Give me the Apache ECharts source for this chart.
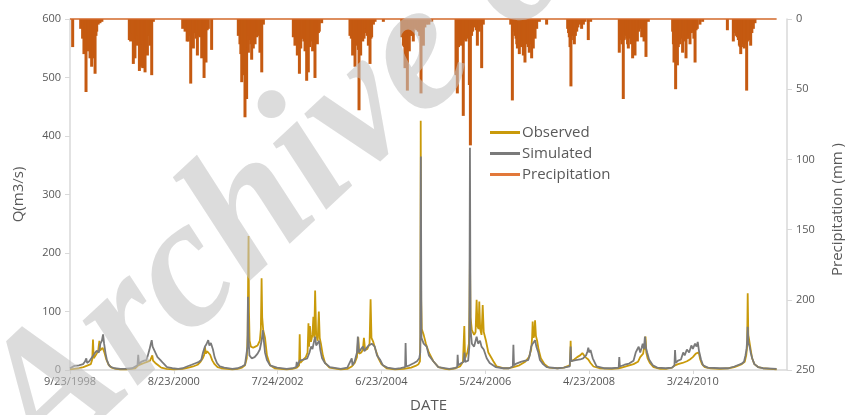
<!DOCTYPE html>
<html>
<head>
<meta charset="utf-8">
<script src="https://cdn.jsdelivr.net/npm/echarts@6/dist/echarts.min.js"></script>
<style>html,body{margin:0;padding:0;background:#fff}#c{width:845px;height:415px}</style>
</head>
<body>
<div id="c"></div>
<script>
// Day offsets are counted from the first date, 9/23/1998.
var startDate = [1998, 9, 23];
var seriesNames = ['Observed', 'Simulated', 'Precipitation'];
var xTickInterval = 700;
var qTicks = [0, 100, 200, 300, 400, 500, 600];
var pTicks = [0, 50, 100, 150, 200, 250];

// Observed discharge Q (m3/s): [day, value]
var observed = [
[0,1],[30,2],[60,3],[90,5],[120,8],[140,10],[150,18],[155,52],[160,20],[170,24],[180,28],[190,33],[198,50],[202,33],[210,36],[220,38],[232,30],[245,18],[260,9],[280,4],[310,2],[340,1],
[380,1],[440,3],[460,8],[480,10],[500,12],[520,14],[540,16],[550,14],[555,25],[560,16],[575,12],[595,8],[615,4],[650,2],[700,1],
[760,2],[800,4],[830,6],[860,9],[880,14],[895,20],[905,26],[910,39],[916,28],[925,32],[935,34],[945,26],[960,16],[975,10],[995,5],[1020,3],[1095,1],
[1130,2],[1160,4],[1180,8],[1192,20],[1198,60],[1201,150],[1204,229],[1207,100],[1211,50],[1220,40],[1235,38],[1250,40],[1265,42],[1280,50],[1287,70],[1292,157],[1296,90],[1303,68],[1315,55],[1328,25],[1349,8],[1380,3],[1461,1],
[1500,2],[1530,4],[1545,8],[1549,61],[1553,12],[1570,17],[1590,22],[1602,30],[1608,80],[1612,40],[1618,75],[1625,48],[1635,60],[1641,91],[1647,55],[1653,136],[1660,60],[1670,50],[1678,100],[1684,55],[1692,45],[1705,25],[1720,12],[1750,4],[1800,2],[1826,1],
[1870,2],[1900,6],[1920,12],[1935,22],[1944,56],[1950,28],[1965,30],[1975,35],[1982,55],[1990,34],[2005,36],[2020,45],[2027,121],[2033,55],[2045,48],[2060,35],[2080,20],[2100,10],[2135,3],[2192,1],
[2250,2],[2300,4],[2330,7],[2350,10],[2360,15],[2363,60],[2365,426],[2368,120],[2372,70],[2385,60],[2400,45],[2420,30],[2450,15],[2484,5],[2530,2],[2557,1],
[2600,3],[2630,6],[2650,14],[2659,75],[2664,20],[2680,30],[2690,45],[2694,110],[2697,197],[2701,90],[2710,68],[2725,60],[2735,65],[2742,120],[2748,75],[2755,70],[2760,117],[2766,70],[2775,60],[2783,111],[2790,65],[2805,50],[2821,30],[2855,15],[2877,6],[2922,3],
[2960,3],[2990,5],[3030,8],[3070,14],[3095,22],[3110,35],[3116,55],[3120,83],[3126,55],[3132,60],[3136,85],[3142,58],[3150,50],[3160,35],[3175,20],[3200,10],[3230,4],[3287,3],
[3330,4],[3370,8],[3373,20],[3376,50],[3380,15],[3400,18],[3420,22],[3440,25],[3455,29],[3465,28],[3475,22],[3495,18],[3510,12],[3530,6],[3570,3],[3653,2],
[3700,3],[3720,4],[3760,7],[3800,10],[3830,14],[3845,22],[3855,25],[3865,28],[3872,40],[3878,35],[3881,57],[3886,30],[3895,20],[3910,12],[3935,5],[3980,2],[4018,2],
[4060,4],[4080,8],[4100,10],[4130,12],[4160,15],[4180,18],[4200,22],[4220,28],[4232,31],[4240,30],[4250,18],[4262,10],[4280,5],[4320,3],[4383,2],
[4440,3],[4480,5],[4510,8],[4530,10],[4550,14],[4560,25],[4566,40],[4570,131],[4574,60],[4580,51],[4590,35],[4600,20],[4615,10],[4640,5],[4673,3],[4720,2],[4765,1]
];

// Simulated discharge Q (m3/s): [day, value]
var simulated = [
[0,3],[13,5],[30,7],[60,8],[88,10],[100,14],[110,20],[115,12],[130,15],[150,22],[165,28],[180,33],[195,30],[205,45],[215,50],[223,61],[230,45],[240,28],[249,17],[260,10],[270,6],[300,3],[340,2],
[365,2],[420,3],[455,8],[460,26],[465,10],[480,14],[500,16],[515,17],[525,25],[535,34],[545,45],[551,51],[557,40],[566,42],[575,30],[590,22],[610,17],[627,12],[654,5],[690,3],[730,2],
[760,3],[789,6],[820,9],[850,12],[870,14],[885,17],[897,30],[910,40],[920,44],[932,51],[940,42],[950,46],[958,43],[964,35],[975,22],[991,12],[1011,6],[1040,4],[1095,2],
[1130,3],[1160,6],[1180,9],[1192,11],[1197,40],[1200,125],[1203,60],[1210,25],[1225,20],[1245,22],[1265,28],[1280,35],[1292,50],[1301,68],[1308,48],[1315,30],[1328,17],[1349,8],[1396,4],[1461,2],
[1500,3],[1525,5],[1529,14],[1533,6],[1549,16],[1560,15],[1580,18],[1600,20],[1615,30],[1625,40],[1635,36],[1645,48],[1653,57],[1660,42],[1670,45],[1680,50],[1688,34],[1700,20],[1719,12],[1753,5],[1826,2],
[1870,4],[1900,20],[1905,8],[1920,15],[1935,30],[1941,57],[1948,30],[1960,35],[1975,40],[1985,32],[2000,38],[2015,42],[2027,40],[2035,45],[2045,48],[2055,40],[2070,25],[2090,18],[2110,8],[2140,4],[2192,2],
[2230,3],[2260,5],[2263,46],[2267,6],[2290,8],[2320,12],[2340,15],[2355,20],[2362,30],[2366,365],[2370,55],[2385,45],[2395,48],[2405,40],[2420,25],[2450,15],[2484,5],[2557,2],
[2590,3],[2611,5],[2614,26],[2618,8],[2640,12],[2655,14],[2660,30],[2665,14],[2685,16],[2693,40],[2697,380],[2701,70],[2710,45],[2725,40],[2735,50],[2742,57],[2752,45],[2765,50],[2775,40],[2790,35],[2810,20],[2830,12],[2870,5],[2922,3],
[2960,3],[2986,6],[2990,43],[2994,8],[3010,11],[3040,14],[3070,16],[3090,17],[3100,25],[3110,40],[3120,45],[3128,42],[3136,51],[3145,40],[3158,30],[3169,17],[3190,10],[3214,5],[3287,3],
[3330,4],[3370,6],[3374,30],[3376,40],[3380,15],[3410,17],[3440,18],[3460,20],[3480,25],[3490,32],[3495,38],[3502,30],[3510,34],[3525,20],[3551,6],[3600,3],[3653,3],
[3700,4],[3704,22],[3708,6],[3740,9],[3770,11],[3800,16],[3815,30],[3825,35],[3835,40],[3845,30],[3855,38],[3862,45],[3870,36],[3877,57],[3884,38],[3892,30],[3905,18],[3930,8],[3960,4],[4018,3],
[4060,4],[4076,8],[4080,34],[4085,12],[4100,16],[4120,18],[4135,30],[4145,25],[4160,35],[4175,30],[4190,42],[4200,36],[4215,45],[4225,40],[4233,48],[4242,32],[4255,18],[4269,8],[4300,4],[4383,3],
[4440,3],[4480,6],[4510,9],[4530,11],[4545,14],[4555,25],[4562,35],[4566,50],[4570,74],[4575,46],[4583,40],[4590,30],[4600,20],[4615,10],[4640,5],[4673,3],[4765,2]
];

// Precipitation (mm): [day, value] for rainy days
var precipitation = [
[18,20],[72,7],[85,14],[94,25],[100,19],[108,52],[115,21],[122,23],[128,19],[135,28],[140,22],[146,34],[152,23],[157,28],[163,19],[169,39],[175,12],[180,9],[190,4],[202,3],[215,2],
[400,15],[409,16],[418,10],[427,32],[438,28],[446,14],[454,19],[461,12],[468,37],[477,34],[484,18],[490,35],[498,15],[506,38],[514,20],[522,26],[530,12],[539,19],[545,10],[551,40],[562,2],
[760,7],[776,9],[790,16],[798,16],[806,12],[814,46],[822,14],[832,21],[842,10],[850,14],[859,26],[868,12],[877,13],[888,28],[896,18],[904,42],[910,20],[917,31],[925,8],[933,7],[955,22],
[1135,12],[1146,18],[1152,25],[1158,45],[1163,30],[1169,40],[1175,35],[1180,70],[1186,40],[1191,57],[1197,20],[1203,24],[1208,12],[1214,15],[1220,18],[1225,29],[1230,16],[1236,21],[1242,12],[1248,18],[1253,10],[1259,13],[1265,8],[1270,9],[1276,12],[1281,24],[1287,14],[1293,38],[1304,4],
[1506,13],[1512,10],[1517,19],[1525,14],[1533,26],[1540,18],[1547,39],[1552,20],[1556,21],[1562,14],[1569,14],[1577,16],[1585,23],[1590,18],[1596,44],[1601,26],[1607,38],[1615,20],[1623,16],[1630,15],[1636,23],[1644,18],[1652,42],[1660,15],[1668,18],[1675,10],[1681,9],[1697,3],
[1888,12],[1897,14],[1906,26],[1914,18],[1922,34],[1930,16],[1938,19],[1944,22],[1949,65],[1955,20],[1960,26],[1967,14],[1974,16],[1983,14],[1990,10],[1996,7],[2004,12],[2012,19],[2018,15],[2023,32],[2029,14],[2034,13],[2046,4],[2057,2],[2113,2],
[2237,13],[2243,12],[2248,19],[2254,20],[2259,35],[2267,22],[2275,51],[2281,20],[2288,23],[2296,12],[2304,12],[2310,10],[2315,16],[2327,7],[2338,8],[2349,9],[2358,12],[2367,53],[2375,15],[2383,19],[2393,6],[2405,4],[2420,4],[2439,2],
[2603,40],[2612,53],[2620,20],[2630,18],[2637,19],[2645,16],[2652,69],[2658,15],[2664,14],[2670,16],[2675,14],[2684,12],[2693,47],[2700,90],[2708,12],[2715,9],[2723,6],[2731,5],[2740,8],[2747,19],[2754,8],[2760,9],[2768,5],[2776,35],[2787,4],
[2972,4],[2983,58],[2994,9],[3000,12],[3008,14],[3013,18],[3017,21],[3024,16],[3030,25],[3038,20],[3046,19],[3052,15],[3057,26],[3062,20],[3068,31],[3076,18],[3084,16],[3090,20],[3097,24],[3105,18],[3113,28],[3118,16],[3124,21],[3130,10],[3136,14],[3147,7],[3165,2],[3214,4],
[3356,7],[3362,10],[3367,13],[3372,20],[3378,48],[3384,12],[3390,12],[3396,15],[3401,18],[3408,12],[3417,9],[3425,6],[3435,4],[3450,7],[3462,4],[3473,2],[3495,15],[3511,2],
[3704,24],[3709,15],[3715,14],[3722,18],[3731,57],[3737,15],[3743,9],[3748,12],[3754,14],[3760,18],[3765,21],[3771,14],[3776,13],[3785,18],[3794,28],[3802,20],[3810,26],[3818,15],[3826,16],[3835,9],[3844,7],[3855,13],[3862,10],[3871,16],[3878,12],[3884,27],[3900,2],
[4064,9],[4069,18],[4073,31],[4079,30],[4084,50],[4090,28],[4096,33],[4102,20],[4109,16],[4113,18],[4118,12],[4125,14],[4131,24],[4137,16],[4143,9],[4148,12],[4154,28],[4162,14],[4170,14],[4175,12],[4181,18],[4190,10],[4199,9],[4207,14],[4215,31],[4222,8],[4230,7],[4248,4],[4266,2],
[4433,8],[4473,16],[4478,10],[4484,7],[4492,12],[4500,13],[4507,15],[4514,19],[4519,20],[4523,25],[4530,18],[4536,16],[4542,20],[4547,21],[4555,18],[4563,51],[4568,16],[4574,14],[4582,15],[4590,19],[4598,10],[4608,7],[4619,3]
];
var lastDay = 4765;

var FONT = '"Open Sans", "Liberation Sans", sans-serif';
var GREY = '#595959';
var AXIS = '#d9d9d9';

function dayLabel(d) {
  var t = Date.UTC(startDate[0], startDate[1] - 1, startDate[2]) + d * 86400000;
  var dt = new Date(t);
  return (dt.getUTCMonth() + 1) + '/' + dt.getUTCDate() + '/' + dt.getUTCFullYear();
}

var chart = echarts.init(document.getElementById('c'), null, {renderer: 'canvas'});
chart.setOption({
  animation: false,
  backgroundColor: '#fff',
  textStyle: {fontFamily: FONT},
  grid: {left: 70, right: 58, top: 19, bottom: 45, containLabel: false, outerBoundsMode: 'none'},
  legend: {
    orient: 'vertical', left: 490, top: 125, itemGap: 6, padding: 0,
    itemWidth: 30, itemHeight: 3, icon: 'rect',
    textStyle: {color: GREY, fontSize: 15, fontFamily: FONT, padding: [0, 0, 0, -3]},
    data: [
      {name: seriesNames[0], itemStyle: {color: '#C99A0A'}},
      {name: seriesNames[1], itemStyle: {color: '#7A7A7A'}},
      {name: seriesNames[2], itemStyle: {color: '#E2783A'}}
    ]
  },
  xAxis: {
    type: 'value', min: 0, max: 4835, interval: xTickInterval,
    name: 'DATE', nameLocation: 'middle', nameGap: 28,
    nameTextStyle: {color: GREY, fontSize: 15, fontFamily: FONT},
    axisLine: {show: true, lineStyle: {color: AXIS, width: 1.5}},
    axisTick: {show: true, length: 4, lineStyle: {color: AXIS}},
    axisLabel: {color: GREY, fontSize: 11, fontFamily: FONT, margin: 6, showMaxLabel: false, formatter: dayLabel},
    splitLine: {show: false}
  },
  yAxis: [
    {
      type: 'value', position: 'left', min: qTicks[0], max: qTicks[qTicks.length - 1], interval: 100,
      name: 'Q(m3/s)', nameLocation: 'middle', nameGap: 44, nameRotate: 90,
      nameTextStyle: {color: GREY, fontSize: 15, fontFamily: FONT},
      axisLine: {show: true, lineStyle: {color: AXIS, width: 1.5}},
      axisTick: {show: true, length: 5, lineStyle: {color: AXIS}},
      axisLabel: {color: GREY, fontSize: 11, fontFamily: FONT, margin: 9},
      splitLine: {show: false}
    },
    {
      type: 'value', position: 'right', inverse: true, min: pTicks[0], max: pTicks[pTicks.length - 1], interval: 50,
      name: 'Precipitation (mm )', nameLocation: 'middle', nameGap: 43, nameRotate: 90,
      nameTextStyle: {color: GREY, fontSize: 15, fontFamily: FONT, padding: [0, 30, 0, 0]},
      axisLine: {show: true, lineStyle: {color: AXIS, width: 1.5}},
      axisTick: {show: true, length: 5, lineStyle: {color: AXIS}},
      axisLabel: {color: GREY, fontSize: 11, fontFamily: FONT, margin: 9},
      splitLine: {show: false}
    }
  ],
  series: [
    {
      name: seriesNames[0], type: 'line', yAxisIndex: 0, showSymbol: false, symbol: 'none',
      data: observed, lineStyle: {color: '#C99A0A', width: 1.8}, itemStyle: {color: '#C99A0A'}, z: 2
    },
    {
      name: seriesNames[1], type: 'line', yAxisIndex: 0, showSymbol: false, symbol: 'none',
      data: simulated, lineStyle: {color: '#7A7A7A', width: 1.8}, itemStyle: {color: '#7A7A7A'}, z: 3
    },
    {
      name: seriesNames[2], type: 'bar', yAxisIndex: 1, barWidth: 3, barGap: '-100%',
      data: precipitation, itemStyle: {color: '#C55A11'}, z: 4,
      markLine: {
        silent: true, symbol: ['none', 'none'], label: {show: false},
        lineStyle: {color: '#D2692A', width: 1.5, type: 'solid'},
        data: [[{coord: [0, 0]}, {coord: [lastDay, 0]}]]
      }
    }
  ],
  graphic: [{
    type: 'text', silent: true, z: 100,
    x: 75, y: 505, rotation: 43 * Math.PI / 180,
    style: {
      text: 'Archive of SID',
      font: 'italic bold 185px "Liberation Serif", serif',
      fill: 'rgba(195,195,195,0.58)',
      textAlign: 'left', textVerticalAlign: 'bottom'
    }
  }]
});
</script>
</body>
</html>
